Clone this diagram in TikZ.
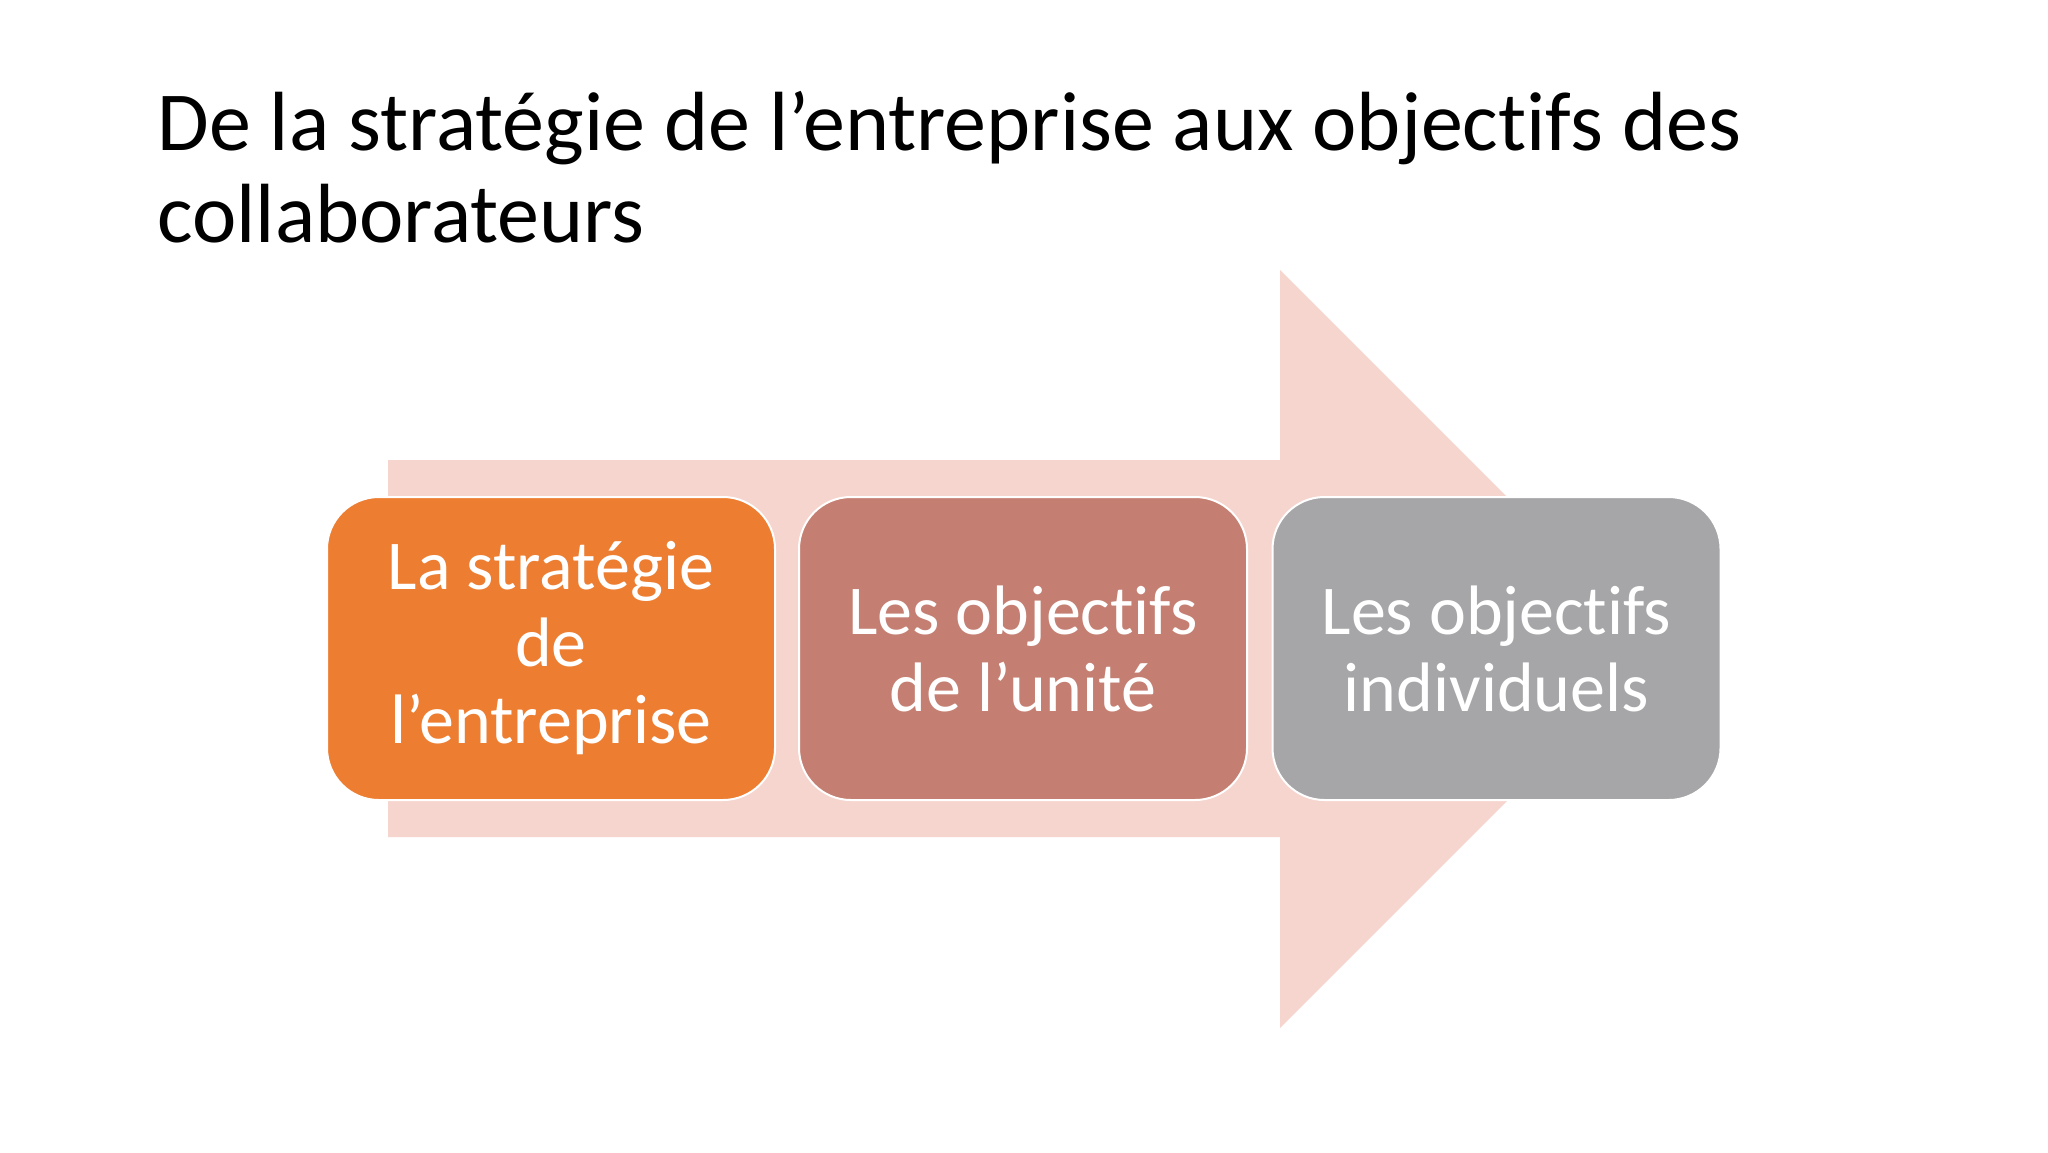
\documentclass[tikz,border=0pt]{standalone}
\usepackage{fontspec}
\setmainfont{Carlito}[RawFeature=-liga]
\definecolor{arrowpink}{HTML}{F6D5CE}
\definecolor{boxorange}{HTML}{ED7D31}
\definecolor{boxrose}{HTML}{C47F72}
\definecolor{boxgray}{HTML}{A6A5A7}
\tikzset{
  stagebox/.style={draw=white, line width=1pt, rounded corners=26pt,
    minimum width=224pt, minimum height=151.5pt, text=white, align=center,
    font=\fontsize{35pt}{38.5pt}\selectfont, inner sep=0pt},
  titletext/.style={anchor=base west, align=left, inner sep=0pt,
    font=\fontsize{42pt}{46pt}\selectfont, text=black}
}
\begin{document}
\begin{tikzpicture}[x=0.5pt,y=-0.5pt]
\useasboundingbox[fill=white] (0,0) rectangle (2048,1152);
% big background arrow
\fill[arrowpink] (388,460) -- (1280,460) -- (1280,270) -- (1659,649)
  -- (1280,1028) -- (1280,837) -- (388,837) -- cycle;
% title
\node[titletext] (title) at (157,242) {De la stratégie de l’entreprise aux objectifs des\\collaborateurs};
% boxes
\node[stagebox, fill=boxorange] (b1) at (551,648.5) {La stratégie\\de\\l’entreprise};
\node[stagebox, fill=boxrose] (b2) at (1023,648.5) {Les objectifs\\de l’unité};
\node[stagebox, fill=boxgray] (b3) at (1496.5,648.5) {Les objectifs\\individuels};
\end{tikzpicture}
\end{document}
